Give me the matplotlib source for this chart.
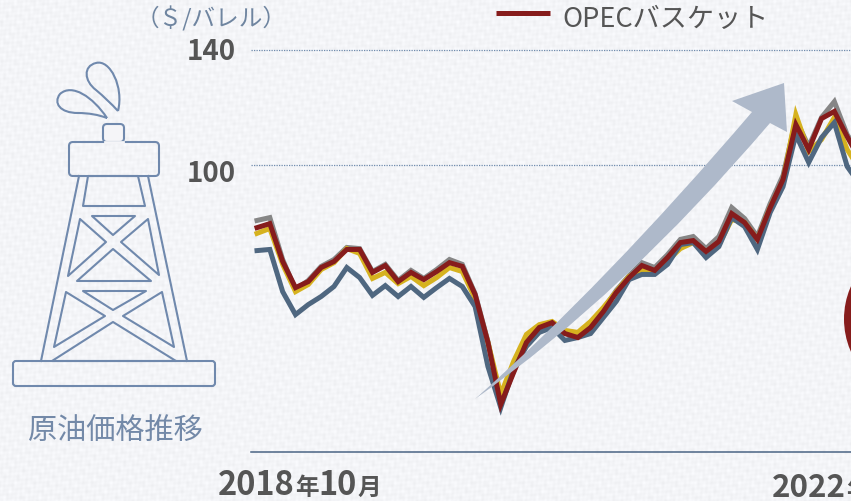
import numpy as np
import matplotlib
matplotlib.use('Agg')
import matplotlib.pyplot as plt
from matplotlib.patches import Circle, FancyBboxPatch, PathPatch, Polygon
from matplotlib.path import Path
from matplotlib.transforms import ScaledTranslation

plt.rcParams['font.family'] = ['Noto Sans CJK JP', 'DejaVu Sans']

# monthly values, from 2018-10
gray = [80.5, 81.5, 66.9, 56.4, 59.6, 64.5, 66.9, 71.1, 70.7, 62.7, 65.2, 59.6, 63.1, 60.3, 63.4, 66.9,
        65.2, 55.0, 38.3, 17.4, 27.9, 38.3, 43.2, 44.9, 41.1, 40.1, 43.5, 49.5, 56.1, 61.3, 65.8, 64.1,
        68.6, 73.9, 74.9, 70.7, 74.9, 85.0, 81.2, 74.9, 86.4, 96.2, 115.7, 106.3, 116.4, 121.9, 110.4, 103.5]
yellow = [76.0, 77.7, 65.2, 55.7, 58.2, 63.4, 65.8, 70.7, 69.0, 60.3, 62.4, 58.5, 61.0, 57.8, 60.6, 64.1,
          62.7, 53.3, 38.0, 19.9, 31.4, 40.8, 44.2, 45.3, 42.2, 41.5, 45.3, 50.2, 55.7, 61.0, 63.4, 62.7,
          66.5, 70.7, 72.8, 69.7, 72.1, 80.8, 79.8, 73.9, 85.0, 94.4, 117.4, 104.5, 108.7, 116.4, 105.2, 98.2]
blue = [70.0, 70.4, 55.7, 47.7, 51.2, 54.0, 57.5, 64.1, 60.6, 54.4, 57.8, 54.0, 57.5, 53.7, 57.1, 60.3,
        57.5, 50.5, 29.6, 15.3, 28.6, 36.6, 41.5, 43.2, 38.7, 39.7, 41.1, 46.7, 52.3, 59.9, 61.7, 61.7,
        65.2, 72.1, 72.8, 67.6, 71.4, 81.5, 78.4, 70.4, 83.3, 92.3, 110.4, 100.7, 109.4, 114.6, 99.3, 93.0]
opec = [78.0, 79.4, 66.2, 57.1, 59.2, 64.1, 66.2, 70.4, 70.4, 62.4, 64.8, 59.2, 62.4, 59.9, 62.7, 65.8,
        64.5, 54.7, 38.0, 16.4, 27.5, 38.0, 43.2, 44.9, 41.1, 39.7, 43.2, 48.8, 55.4, 60.6, 64.8, 63.1,
        67.6, 72.8, 73.5, 69.7, 73.2, 82.9, 79.8, 73.9, 85.0, 94.8, 113.9, 105.2, 116.0, 118.5, 109.7, 101.7]
y_ticks = [100, 140]
legend_label = 'OPECバスケット'
unit_label = '（＄/バレル）'
icon_label = '原油価格推移'

W, H = 851, 502
fig = plt.figure(figsize=(W / 100, H / 100), dpi=100)

# linen paper background
bg = fig.add_axes([0, 0, 1, 1], zorder=0)
yy, xx = np.mgrid[0:H, 0:W]
tex = (np.sin(xx * 1.15) * np.sin(yy * 0.17 + xx * 0.29) + np.sin(yy * 1.05) * np.sin(xx * 0.13 + yy * 0.37)
       + 0.8 * np.sin(xx * 0.53 + 1.3 * np.sin(yy * 0.05)) * np.sin(yy * 0.47))
base = 245 + 2.8 * tex
bg.imshow(np.dstack([base - 1, base, base + 3]).clip(0, 255).astype(np.uint8), aspect='auto')
bg.axis('off')

# chart
ax = fig.add_axes([251 / W, 49.5 / H, 600 / W, 432.5 / H], zorder=1)
ax.patch.set_alpha(0)
x = np.arange(len(opec))
ax.set_xlim(-6 / 12.83, 594 / 12.83)
ax.set_ylim(0, 432.5 / 2.87)
ax.plot(x, gray, color='#868686', lw=3.6, solid_joinstyle='miter')
ax.plot(x, yellow, color='#d6b21f', lw=3.6, solid_joinstyle='miter')
ax.plot(x, blue, color='#4f6780', lw=3.6, solid_joinstyle='miter')
ax.plot(x, opec, color='#861c1c', lw=3.6, solid_joinstyle='miter')

ax.set_yticks(y_ticks)
labels = ax.set_yticklabels(y_ticks, fontsize=20, fontweight='bold', color='#555555')
ax.tick_params(axis='y', length=0, pad=11)
# nudge the labels off their gridlines like the original
labels[0].set_transform(labels[0].get_transform() + ScaledTranslation(0, -5.5 / 100, fig.dpi_scale_trans))
labels[1].set_transform(labels[1].get_transform() + ScaledTranslation(0, 2 / 100, fig.dpi_scale_trans))
ax.set_xticks([])
ax.grid(axis='y', color='#6f8bad', lw=0.9, ls=(0, (1, 1)))
ax.set_axisbelow(True)
for s in ['top', 'right', 'left']:
    ax.spines[s].set_visible(False)
ax.spines['bottom'].set_color('#4a6484')
ax.spines['bottom'].set_linewidth(1.1)

# overlay in pixel coordinates: arrow, circle, derrick icon, labels
ov = fig.add_axes([0, 0, 1, 1], zorder=2)
ov.set_xlim(0, W)
ov.set_ylim(H, 0)
ov.axis('off')

arrow_verts = [(475, 400), (605, 285), (752, 113), (732, 102), (784, 84), (787, 133), (770, 124), (624, 295), (475, 400), (475, 400)]
arrow_codes = [Path.MOVETO, Path.CURVE3, Path.CURVE3, Path.LINETO, Path.LINETO, Path.LINETO, Path.LINETO,
               Path.CURVE3, Path.CURVE3, Path.CLOSEPOLY]
ov.add_patch(PathPatch(Path(arrow_verts, arrow_codes), fc='#aeb9ca', ec='none'))
ov.add_patch(Circle((925, 320), 81, fc='#861c1c', ec='none'))

ic = '#7089ad'
lw_ic = 1.5


def outline(points):
    ov.add_patch(Polygon(points, closed=True, fc='none', ec=ic, lw=lw_ic, joinstyle='round'))


# oil drops
for verts in ([(118, 112), (124, 88), (110, 60), (96, 64), (83, 67), (84, 82), (96, 91), (108, 101), (118, 112)],
              [(107, 119), (93, 98), (72, 84), (60, 95), (53, 104), (60, 114), (78, 114), (94, 114), (107, 119)]):
    codes = [Path.MOVETO] + [Path.CURVE4] * 6 + [Path.CURVE3] * 2
    ov.add_patch(PathPatch(Path(verts, codes), fc='none', ec=ic, lw=lw_ic))

# top block, platform, base
ov.add_patch(FancyBboxPatch((69, 143), 90, 34, boxstyle='round,pad=0,rounding_size=4', fc='none', ec=ic, lw=lw_ic))
ov.add_patch(FancyBboxPatch((103, 125), 21, 18, boxstyle='round,pad=0,rounding_size=4', fc='#f5f5f8', ec=ic, lw=lw_ic))
ov.plot([104.5, 122.5], [143, 143], color='#f5f5f8', lw=2)
ov.add_patch(FancyBboxPatch((13, 362), 202, 25, boxstyle='round,pad=0,rounding_size=3', fc='none', ec=ic, lw=lw_ic))

# legs and bracing
ov.plot([79, 41], [177, 362], color=ic, lw=lw_ic)
ov.plot([148, 187], [177, 362], color=ic, lw=lw_ic)
for pts in ([(88, 177), (138, 177), (145, 207), (83, 207)],
            [(92, 217), (135, 217), (113, 236)],
            [(80, 220), (106, 243), (68, 277)],
            [(148, 220), (121, 243), (159, 276)],
            [(113, 250), (77, 282), (151, 282)],
            [(83, 292), (146, 292), (113, 311)],
            [(66, 293), (105, 317), (54, 348)],
            [(162, 293), (123, 317), (174, 348)],
            [(113, 323), (52, 362), (176, 362)]):
    outline(pts)

# legend entry
ov.plot([496, 550], [14, 14], color='#861c1c', lw=3.6, solid_capstyle='butt')
ov.text(562, 19, legend_label, fontsize=19.5, color='#555555', ha='left', va='center')

ov.text(287, 19, unit_label, fontsize=17, color='#6f85a0', ha='right', va='center')
ov.text(115, 432, icon_label, fontsize=21, color='#7389a8', ha='center', va='center')

# date labels, digits larger than the kanji
for text, px, py, size in [('2018', 218, 495, 23.5), ('年', 295, 495, 17), ('10', 318, 495, 23.5), ('月', 357, 495, 17),
                           ('2022', 772, 497, 22.5), ('年', 846, 497, 17)]:
    ov.text(px, py, text, fontsize=size, fontweight='bold', color='#555555', ha='left', va='baseline',
            clip_on=True)

fig.savefig('out.png', dpi=100)
